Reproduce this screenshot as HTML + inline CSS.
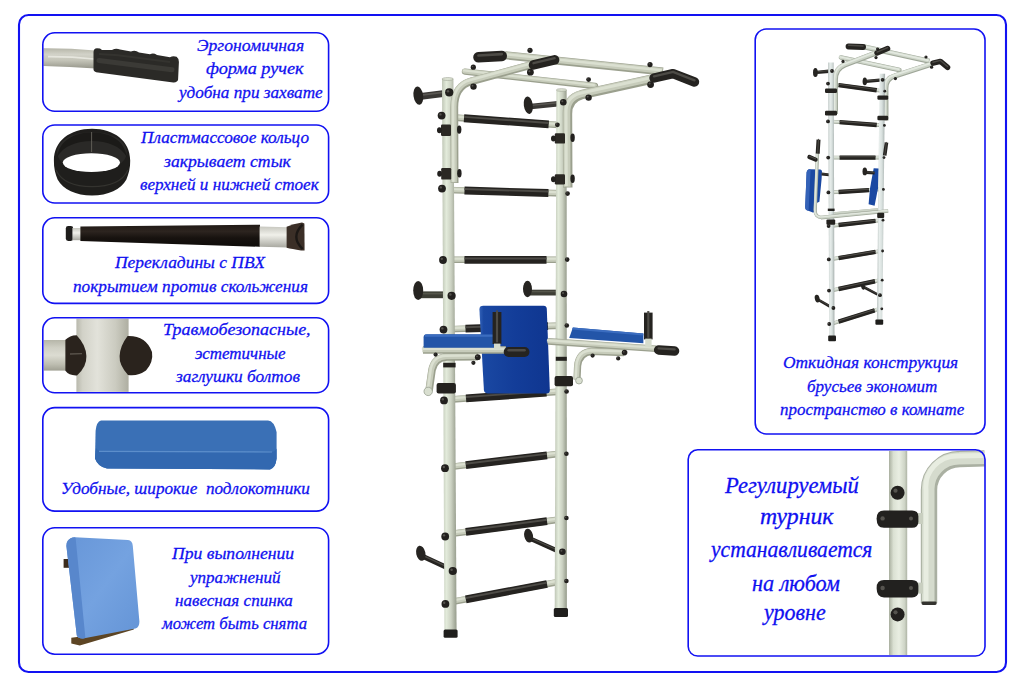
<!DOCTYPE html>
<html lang="ru"><head><meta charset="utf-8"><title>Шведская стенка</title>
<style>
html,body{margin:0;padding:0;background:#fff;}
body{width:1024px;height:686px;position:relative;overflow:hidden;font-family:"Liberation Serif",serif;}
svg{position:absolute;left:0;top:0;}
.t{position:absolute;white-space:pre;font-style:italic;font-size:17.6px;line-height:17.6px;color:#1010f0;transform-origin:0 0;-webkit-text-stroke:0.3px #1010f0;}
.t.b{font-size:22.6px;line-height:22.6px;}
</style></head>
<body>
<svg width="1024" height="686" viewBox="0 0 1024 686">
<defs>
<linearGradient id="gv" x1="0" x2="1" y1="0" y2="0"><stop offset="0" stop-color="#bfc6b6"/><stop offset="0.3" stop-color="#e3ebdb"/><stop offset="0.62" stop-color="#ccd2c3"/><stop offset="0.9" stop-color="#a3a999"/><stop offset="1" stop-color="#969c8c"/></linearGradient>
<linearGradient id="gvs" x1="0" x2="1" y1="0" y2="0"><stop offset="0" stop-color="#b9c2c0"/><stop offset="0.3" stop-color="#e8eeec"/><stop offset="0.62" stop-color="#d8e0de"/><stop offset="1" stop-color="#a4adab"/></linearGradient>
<linearGradient id="gv2" x1="0" x2="1" y1="0" y2="0"><stop offset="0" stop-color="#b9b9ad"/><stop offset="0.12" stop-color="#d2d2c8"/><stop offset="0.4" stop-color="#e2e2da"/><stop offset="0.75" stop-color="#cbcbc0"/><stop offset="1" stop-color="#aeaea1"/></linearGradient>
<linearGradient id="gv3" x1="0" x2="1" y1="0" y2="0"><stop offset="0" stop-color="#a9af9f"/><stop offset="0.25" stop-color="#dbe1d3"/><stop offset="0.55" stop-color="#e9eee2"/><stop offset="0.85" stop-color="#cfd5c7"/><stop offset="1" stop-color="#aeb4a5"/></linearGradient>
<linearGradient id="gh1" x1="0" x2="0" y1="0" y2="1"><stop offset="0" stop-color="#b5b5a8"/><stop offset="0.3" stop-color="#d2d2c8"/><stop offset="0.6" stop-color="#c4c4b8"/><stop offset="1" stop-color="#96968a"/></linearGradient>
<linearGradient id="gh2" x1="0" x2="0" y1="0" y2="1"><stop offset="0" stop-color="#c8c8c0"/><stop offset="0.4" stop-color="#f0f0ea"/><stop offset="1" stop-color="#a8a8a0"/></linearGradient>
<linearGradient id="gh3" x1="0" x2="0" y1="0" y2="1"><stop offset="0" stop-color="#b6b6a9"/><stop offset="0.25" stop-color="#cfcfc4"/><stop offset="0.5" stop-color="#dcdcd2"/><stop offset="0.8" stop-color="#bdbdb0"/><stop offset="1" stop-color="#a0a093"/></linearGradient>
<linearGradient id="gblk" x1="0" x2="0" y1="0" y2="1"><stop offset="0" stop-color="#211a16"/><stop offset="0.3" stop-color="#2c241f"/><stop offset="0.6" stop-color="#17120f"/><stop offset="1" stop-color="#0e0b09"/></linearGradient>
<linearGradient id="gbp" x1="0" x2="1" y1="0" y2="1"><stop offset="0" stop-color="#6796d8"/><stop offset="0.5" stop-color="#74a2e0"/><stop offset="1" stop-color="#6494d6"/></linearGradient>
<linearGradient id="gpad" x1="0" x2="1" y1="0" y2="0"><stop offset="0" stop-color="#3362b8"/><stop offset="0.06" stop-color="#1a48a2"/><stop offset="0.5" stop-color="#133d99"/><stop offset="1" stop-color="#0f3690"/></linearGradient>
</defs>
<g id="details"><path d="M43.4,48.2 Q70,48 95.4,50.6 L95.4,68.6 Q70,66.6 43.4,66 Z" fill="url(#gh1)"/><path d="M48,56.6 Q70,56.4 94,59" stroke="#e6e6de" stroke-width="1.6" fill="none"/><path d="M93.5,52 Q93.6,48.6 97,48.3 L100,48.6 L102,50 L112,50 Q116,47.6 120,49.6 L131,51.6 Q135,49.8 139,52.4 L150,54.2 Q153.6,52.6 157,55 L170,57.2 Q173,55.6 176.6,56.8 Q179,58.6 178.9,62 L178.1,79.6 Q177.6,82.6 173.3,82.4 L98,72.4 Q93.8,72 93.5,69.4 Z" fill="#2b2a27"/><path d="M99,60.4 L172,69.8" stroke="#3b3a36" stroke-width="5" fill="none" stroke-linecap="round"/><path d="M99,54 L118,55.2 L170,62" stroke="#34332f" stroke-width="2" fill="none"/><path d="M53.9,160.5 C53.9,141 70,128.8 92,128.8 C114,128.8 130.2,141 130.2,160.5 C130.4,168 128.6,174 126.4,179.6 C121,189.6 108,195.6 92,195.6 C76,195.6 63,189.6 57.6,179.6 C55.4,174 53.7,168 53.9,160.5 Z" fill="#1f1e1c"/><ellipse cx="92" cy="152" rx="35" ry="20" fill="#2a2927"/><path d="M57,157 C60,140 74,132.4 92,132.4 C110,132.4 124,140 127,157 C120,146 108,141 92,141 C76,141 64,146 57,157 Z" fill="#1b1a18"/><ellipse cx="91.4" cy="162.6" rx="28.6" ry="9.4" fill="#ffffff"/><path d="M56,170 C62,183 76,186.6 92,186.6 C108,186.6 122,183 128,170" stroke="#34332f" stroke-width="1.2" fill="none"/><path d="M91.6,132 L91.6,152" stroke="#5e5c56" stroke-width="1"/><rect x="65.8" y="226" width="7.4" height="15" rx="2.4" fill="#1e1d1b"/><rect x="72.4" y="228" width="9.6" height="12.2" fill="url(#gh2)"/><polygon points="80.4,226.6 260,224.8 260,246.8 80.4,241" fill="url(#gblk)" /><polygon points="259.6,226.6 288,227.2 288,247.4 259.6,246.8" fill="url(#gh2)" /><path d="M286.6,226.8 Q293,224 302,222.6 L304.4,223.4 L304.6,250.4 L301,250.6 Q292,249 286.6,247.8 Z" fill="#3b2f27"/><path d="M302.6,224.6 Q290,236.6 302.6,249" stroke="#1c1815" stroke-width="2.4" fill="none"/><rect x="43.8" y="340" width="24" height="30.6" fill="url(#gh3)"/><rect x="76.4" y="318.7" width="52.2" height="73.2" fill="url(#gv2)"/><path d="M65.4,339.8 L65.4,370.8 Q69,375.8 77,375.4 Q86.8,367 86.4,356 Q86,345 76.6,335.2 Q69.6,335.4 65.4,339.8 Z" fill="#2a231d"/><path d="M127.6,336 Q146,335.4 152,352 Q153.6,362 146,370.6 Q138,376.4 128,375 Q119,365 119.6,356 Q120,346 127.6,336 Z" fill="#2a231d"/><path d="M70,354 L82,353.6" stroke="#5a544c" stroke-width="1.4"/><path d="M101,420.6 L268,420.6 Q274,421 276.6,432 L276.6,458.6 Q275.6,468 270,469.4 L107,468.6 Q98,467 95,458.6 L95.6,431 Q96.6,421.6 101,420.6 Z" fill="#3a70b6"/><path d="M96,448 Q98,451.6 104,452 L270,452.6 Q275,452 276.6,448.6 L276.6,458.6 Q275.6,468 270,469.4 L107,468.6 Q98,467 95,458.6 Z" fill="#3268b0"/><path d="M99,451.4 L272,452" stroke="#5c8ecb" stroke-width="1.2" fill="none"/><polygon points="71.3,637.8 80.8,636.6 133.8,626.8 133.8,629.6 79.8,645.4 71.3,643.6" fill="#5d4524" /><rect x="63.6" y="559" width="5.4" height="8.8" fill="#3c2c1c"/><path d="M67.6,541 Q70,537.4 75,537.2 L128,540 Q132.4,540.6 132.8,546 L139.4,621.4 Q139.4,627.4 135.4,628.4 L83,638.6 Q78,638.8 76.8,635.6 L66.4,546 Q66.4,542.6 67.6,541 Z" fill="url(#gbp)"/><path d="M67.6,541 Q70,537.4 75,537.2 L75.6,538 L85.4,638 L83,638.6 Q78,638.8 76.8,635.6 L66.4,546 Q66.4,542.6 67.6,541 Z" fill="#5887cc"/><rect x="889" y="451" width="18.2" height="204" fill="url(#gv3)"/><path d="M929,603 L929,490 A31,31 0 0 1 960,459 L984.6,458.4" stroke="#aab0a2" stroke-width="16.4" fill="none"/><path d="M928.2,603 L928.2,490 A31,31 0 0 1 959.2,458.2 L984.6,457.6" stroke="#d5dbcd" stroke-width="12.6" fill="none"/><path d="M926,603 L926,490 A31,31 0 0 1 957,456 L984.6,455.4" stroke="#e8ede1" stroke-width="5" fill="none"/><rect x="921.6" y="601.4" width="15" height="3.6" rx="1.4" fill="#34332f"/><rect x="915" y="513.0" width="8" height="11" fill="#c9cfc0"/><path d="M876.6,518.4 Q876.6,510.4 884,510.4 L912,510.4 Q918.4,510.4 918.4,516.4 L918.4,521.4 Q918.4,527.8 912,527.8 L884,527.8 Q876.6,527.8 876.6,518.4 Z" fill="#22211f"/><circle cx="882.6" cy="518.4" r="2.2" fill="#56544f"/><circle cx="911" cy="518.4" r="2" fill="#56544f"/><rect x="915" y="582.6" width="8" height="11" fill="#c9cfc0"/><path d="M876.6,588 Q876.6,580 884,580 L912,580 Q918.4,580 918.4,586 L918.4,591 Q918.4,597.4 912,597.4 L884,597.4 Q876.6,597.4 876.6,588 Z" fill="#22211f"/><circle cx="882.6" cy="588" r="2.2" fill="#56544f"/><circle cx="911" cy="588" r="2" fill="#56544f"/><circle cx="897.6" cy="492.8" r="7" fill="#22201e"/><circle cx="895.50" cy="490.70" r="2.10" fill="#55534e"/><circle cx="897.6" cy="614.4" r="7" fill="#22201e"/><circle cx="895.50" cy="612.30" r="2.10" fill="#55534e"/></g>
<g id="central"><path d="M421,96.4 L443,93.6" fill="none" stroke="#3a3835" stroke-width="7" stroke-linecap="butt" stroke-linejoin="round"/><path d="M421,96.4 L443,93.6" fill="none" stroke="#5a5853" stroke-width="1.75" stroke-linecap="butt" stroke-linejoin="round" transform="translate(0,-1.26)"/><ellipse cx="418.3" cy="95.7" rx="4.8" ry="9.2" fill="#262421" transform="rotate(-8 418.3 95.7)"/><path d="M531,106.4 L558,103.8" fill="none" stroke="#3a3835" stroke-width="5.5" stroke-linecap="butt" stroke-linejoin="round"/><path d="M531,106.4 L558,103.8" fill="none" stroke="#5a5853" stroke-width="1.38" stroke-linecap="butt" stroke-linejoin="round" transform="translate(0,-0.99)"/><ellipse cx="528.3" cy="105.2" rx="4.5" ry="8.8" fill="#262421" transform="rotate(-8 528.3 105.2)"/><path d="M421,294.8 L445,294.8" fill="none" stroke="#3d3e35" stroke-width="6.8" stroke-linecap="butt" stroke-linejoin="round"/><path d="M421,294.8 L445,294.8" fill="none" stroke="#55564b" stroke-width="1.70" stroke-linecap="butt" stroke-linejoin="round" transform="translate(0,-1.22)"/><ellipse cx="418.2" cy="290.5" rx="5" ry="9.6" fill="#262421"/><path d="M530,292.6 L557,292.6" fill="none" stroke="#3d3e35" stroke-width="5.8" stroke-linecap="butt" stroke-linejoin="round"/><path d="M530,292.6 L557,292.6" fill="none" stroke="#55564b" stroke-width="1.45" stroke-linecap="butt" stroke-linejoin="round" transform="translate(0,-1.04)"/><ellipse cx="527.5" cy="289" rx="4.5" ry="8.2" fill="#262421"/><path d="M422,556 L450,569" fill="none" stroke="#252320" stroke-width="5" stroke-linecap="butt" stroke-linejoin="round"/><path d="M422,556 L450,569" fill="none" stroke="#4d4b46" stroke-width="1.25" stroke-linecap="butt" stroke-linejoin="round" transform="translate(0,-0.90)"/><ellipse cx="420.8" cy="553.3" rx="4.6" ry="7.6" fill="#262421" transform="rotate(-12 420.8 553.3)"/><path d="M531,539 L557,550.6" fill="none" stroke="#252320" stroke-width="4.6" stroke-linecap="butt" stroke-linejoin="round"/><path d="M531,539 L557,550.6" fill="none" stroke="#4d4b46" stroke-width="1.15" stroke-linecap="butt" stroke-linejoin="round" transform="translate(0,-0.83)"/><ellipse cx="528.6" cy="535.7" rx="4.4" ry="7" fill="#262421" transform="rotate(-12 528.6 535.7)"/><path d="M465,71.6 L595,86" fill="none" stroke="#9ba08e" stroke-width="6.4" stroke-linecap="round" stroke-linejoin="round"/><path d="M465,71.6 L595,86" fill="none" stroke="#c7ccbb" stroke-width="4.74" stroke-linecap="round" stroke-linejoin="round" transform="translate(-0.51,-0.51)"/><path d="M465,71.6 L595,86" fill="none" stroke="#dbe0d1" stroke-width="2.05" stroke-linecap="round" stroke-linejoin="round" transform="translate(-1.02,-1.02)"/><circle cx="588.6" cy="79.6" r="2.4" fill="#22201e"/><circle cx="587.88" cy="78.88" r="0.72" fill="#55534e"/><circle cx="473.3" cy="67.2" r="2.6" fill="#22201e"/><circle cx="472.52" cy="66.42" r="0.78" fill="#55534e"/><path d="M505,55.3 L663,71.5" fill="none" stroke="#9ba08e" stroke-width="8" stroke-linecap="butt" stroke-linejoin="round"/><path d="M505,55.3 L663,71.5" fill="none" stroke="#c7ccbb" stroke-width="5.92" stroke-linecap="butt" stroke-linejoin="round" transform="translate(-0.64,-0.64)"/><path d="M505,55.3 L663,71.5" fill="none" stroke="#dbe0d1" stroke-width="2.56" stroke-linecap="butt" stroke-linejoin="round" transform="translate(-1.28,-1.28)"/><circle cx="530" cy="50.3" r="2.6" fill="#22201e"/><circle cx="529.22" cy="49.52" r="0.78" fill="#55534e"/><circle cx="650" cy="64.6" r="2.6" fill="#22201e"/><circle cx="649.22" cy="63.82" r="0.78" fill="#55534e"/><path d="M478.4,57.3 L501.8,56" fill="none" stroke="#252320" stroke-width="10.4" stroke-linecap="round" stroke-linejoin="round"/><path d="M478.4,57.3 L501.8,56" fill="none" stroke="#4d4b46" stroke-width="2.60" stroke-linecap="round" stroke-linejoin="round" transform="translate(0,-1.87)"/><path d="M448,117.1 L562,125.3" fill="none" stroke="#9ba08e" stroke-width="6.63" stroke-linecap="butt" stroke-linejoin="round"/><path d="M448,117.1 L562,125.3" fill="none" stroke="#c7ccbb" stroke-width="4.91" stroke-linecap="butt" stroke-linejoin="round" transform="translate(-0.53,-0.53)"/><path d="M448,117.1 L562,125.3" fill="none" stroke="#dbe0d1" stroke-width="2.12" stroke-linecap="butt" stroke-linejoin="round" transform="translate(-1.06,-1.06)"/><path d="M464,118.25 L548.7,124.34" fill="none" stroke="#252320" stroke-width="7.8" stroke-linecap="butt" stroke-linejoin="round"/><path d="M464,118.25 L548.7,124.34" fill="none" stroke="#4d4b46" stroke-width="1.95" stroke-linecap="butt" stroke-linejoin="round" transform="translate(0,-1.40)"/><path d="M448,190.0 L562,193.4" fill="none" stroke="#9ba08e" stroke-width="6.63" stroke-linecap="butt" stroke-linejoin="round"/><path d="M448,190.0 L562,193.4" fill="none" stroke="#c7ccbb" stroke-width="4.91" stroke-linecap="butt" stroke-linejoin="round" transform="translate(-0.53,-0.53)"/><path d="M448,190.0 L562,193.4" fill="none" stroke="#dbe0d1" stroke-width="2.12" stroke-linecap="butt" stroke-linejoin="round" transform="translate(-1.06,-1.06)"/><path d="M464.5,190.49 L548.4,192.99" fill="none" stroke="#252320" stroke-width="7.8" stroke-linecap="butt" stroke-linejoin="round"/><path d="M464.5,190.49 L548.4,192.99" fill="none" stroke="#4d4b46" stroke-width="1.95" stroke-linecap="butt" stroke-linejoin="round" transform="translate(0,-1.40)"/><path d="M449,259.8 L562,259.8" fill="none" stroke="#9ba08e" stroke-width="6.63" stroke-linecap="butt" stroke-linejoin="round"/><path d="M449,259.8 L562,259.8" fill="none" stroke="#c7ccbb" stroke-width="4.91" stroke-linecap="butt" stroke-linejoin="round" transform="translate(-0.53,-0.53)"/><path d="M449,259.8 L562,259.8" fill="none" stroke="#dbe0d1" stroke-width="2.12" stroke-linecap="butt" stroke-linejoin="round" transform="translate(-1.06,-1.06)"/><path d="M464.5,259.80 L546.5,259.80" fill="none" stroke="#252320" stroke-width="7.8" stroke-linecap="butt" stroke-linejoin="round"/><path d="M464.5,259.80 L546.5,259.80" fill="none" stroke="#4d4b46" stroke-width="1.95" stroke-linecap="butt" stroke-linejoin="round" transform="translate(0,-1.40)"/><path d="M449,329.2 L562,325.6" fill="none" stroke="#9ba08e" stroke-width="6.63" stroke-linecap="butt" stroke-linejoin="round"/><path d="M449,329.2 L562,325.6" fill="none" stroke="#c7ccbb" stroke-width="4.91" stroke-linecap="butt" stroke-linejoin="round" transform="translate(-0.53,-0.53)"/><path d="M449,329.2 L562,325.6" fill="none" stroke="#dbe0d1" stroke-width="2.12" stroke-linecap="butt" stroke-linejoin="round" transform="translate(-1.06,-1.06)"/><path d="M465.5,328.67 L548,326.05" fill="none" stroke="#252320" stroke-width="7.8" stroke-linecap="butt" stroke-linejoin="round"/><path d="M465.5,328.67 L548,326.05" fill="none" stroke="#4d4b46" stroke-width="1.95" stroke-linecap="butt" stroke-linejoin="round" transform="translate(0,-1.40)"/><path d="M450,399.6 L561,391.6" fill="none" stroke="#9ba08e" stroke-width="6.63" stroke-linecap="butt" stroke-linejoin="round"/><path d="M450,399.6 L561,391.6" fill="none" stroke="#c7ccbb" stroke-width="4.91" stroke-linecap="butt" stroke-linejoin="round" transform="translate(-0.53,-0.53)"/><path d="M450,399.6 L561,391.6" fill="none" stroke="#dbe0d1" stroke-width="2.12" stroke-linecap="butt" stroke-linejoin="round" transform="translate(-1.06,-1.06)"/><path d="M466,398.45 L546.5,392.65" fill="none" stroke="#252320" stroke-width="7.8" stroke-linecap="butt" stroke-linejoin="round"/><path d="M466,398.45 L546.5,392.65" fill="none" stroke="#4d4b46" stroke-width="1.95" stroke-linecap="butt" stroke-linejoin="round" transform="translate(0,-1.40)"/><path d="M450,467.0 L561,453.6" fill="none" stroke="#9ba08e" stroke-width="6.63" stroke-linecap="butt" stroke-linejoin="round"/><path d="M450,467.0 L561,453.6" fill="none" stroke="#c7ccbb" stroke-width="4.91" stroke-linecap="butt" stroke-linejoin="round" transform="translate(-0.53,-0.53)"/><path d="M450,467.0 L561,453.6" fill="none" stroke="#dbe0d1" stroke-width="2.12" stroke-linecap="butt" stroke-linejoin="round" transform="translate(-1.06,-1.06)"/><path d="M465.8,465.09 L547,455.29" fill="none" stroke="#252320" stroke-width="7.8" stroke-linecap="butt" stroke-linejoin="round"/><path d="M465.8,465.09 L547,455.29" fill="none" stroke="#4d4b46" stroke-width="1.95" stroke-linecap="butt" stroke-linejoin="round" transform="translate(0,-1.40)"/><path d="M450,534.0 L561,519.4" fill="none" stroke="#9ba08e" stroke-width="6.63" stroke-linecap="butt" stroke-linejoin="round"/><path d="M450,534.0 L561,519.4" fill="none" stroke="#c7ccbb" stroke-width="4.91" stroke-linecap="butt" stroke-linejoin="round" transform="translate(-0.53,-0.53)"/><path d="M450,534.0 L561,519.4" fill="none" stroke="#dbe0d1" stroke-width="2.12" stroke-linecap="butt" stroke-linejoin="round" transform="translate(-1.06,-1.06)"/><path d="M465.8,531.92 L547,521.24" fill="none" stroke="#252320" stroke-width="7.8" stroke-linecap="butt" stroke-linejoin="round"/><path d="M465.8,531.92 L547,521.24" fill="none" stroke="#4d4b46" stroke-width="1.95" stroke-linecap="butt" stroke-linejoin="round" transform="translate(0,-1.40)"/><path d="M450,602.3 L561,581.4" fill="none" stroke="#9ba08e" stroke-width="6.63" stroke-linecap="butt" stroke-linejoin="round"/><path d="M450,602.3 L561,581.4" fill="none" stroke="#c7ccbb" stroke-width="4.91" stroke-linecap="butt" stroke-linejoin="round" transform="translate(-0.53,-0.53)"/><path d="M450,602.3 L561,581.4" fill="none" stroke="#dbe0d1" stroke-width="2.12" stroke-linecap="butt" stroke-linejoin="round" transform="translate(-1.06,-1.06)"/><path d="M465.8,599.33 L547,584.04" fill="none" stroke="#252320" stroke-width="7.8" stroke-linecap="butt" stroke-linejoin="round"/><path d="M465.8,599.33 L547,584.04" fill="none" stroke="#4d4b46" stroke-width="1.95" stroke-linecap="butt" stroke-linejoin="round" transform="translate(0,-1.40)"/><polygon points="442,79 453.4,79 456.6,633 444.4,633" fill="url(#gv)" /><ellipse cx="447.7" cy="79" rx="5.7" ry="1.4" fill="#dfe5d6" stroke="#9aa090" stroke-width="0.6"/><polygon points="556.4,90 566.6,90 566.9,612 554.7,612" fill="url(#gv)" /><ellipse cx="561.5" cy="90" rx="5.1" ry="1.3" fill="#dfe5d6" stroke="#9aa090" stroke-width="0.6"/><rect x="443.6" y="629.5" width="14" height="8.2" rx="1.5" fill="#1f1e1c"/><rect x="553.8" y="608" width="14.2" height="9" rx="1.5" fill="#1f1e1c"/><path d="M454.6,183 L454.3,108 Q454,86 471.5,81.2 L531,65" fill="none" stroke="#9ba08e" stroke-width="7.8" stroke-linecap="butt" stroke-linejoin="round"/><path d="M454.6,183 L454.3,108 Q454,86 471.5,81.2 L531,65" fill="none" stroke="#c7ccbb" stroke-width="5.77" stroke-linecap="butt" stroke-linejoin="round" transform="translate(-0.62,-0.62)"/><path d="M454.6,183 L454.3,108 Q454,86 471.5,81.2 L531,65" fill="none" stroke="#dbe0d1" stroke-width="2.50" stroke-linecap="butt" stroke-linejoin="round" transform="translate(-1.25,-1.25)"/><path d="M567.8,187.6 L567.5,114 Q567.2,98.6 581.5,94.7 L652,79.2" fill="none" stroke="#9ba08e" stroke-width="9.4" stroke-linecap="butt" stroke-linejoin="round"/><path d="M567.8,187.6 L567.5,114 Q567.2,98.6 581.5,94.7 L652,79.2" fill="none" stroke="#c7ccbb" stroke-width="6.96" stroke-linecap="butt" stroke-linejoin="round" transform="translate(-0.75,-0.75)"/><path d="M567.8,187.6 L567.5,114 Q567.2,98.6 581.5,94.7 L652,79.2" fill="none" stroke="#dbe0d1" stroke-width="3.01" stroke-linecap="butt" stroke-linejoin="round" transform="translate(-1.50,-1.50)"/><path d="M533.5,64.9 L554.6,59.9" fill="none" stroke="#252320" stroke-width="9.6" stroke-linecap="round" stroke-linejoin="round"/><path d="M533.5,64.9 L554.6,59.9" fill="none" stroke="#4d4b46" stroke-width="2.40" stroke-linecap="round" stroke-linejoin="round" transform="translate(0,-1.73)"/><path d="M654,78 L673,73.6 L694.5,82" fill="none" stroke="#252320" stroke-width="9.4" stroke-linecap="round" stroke-linejoin="round"/><path d="M654,78 L673,73.6 L694.5,82" fill="none" stroke="#4d4b46" stroke-width="2.35" stroke-linecap="round" stroke-linejoin="round" transform="translate(0,-1.69)"/><circle cx="473.5" cy="86.6" r="3.2" fill="#22201e"/><circle cx="472.54" cy="85.64" r="0.96" fill="#55534e"/><circle cx="530.4" cy="72.2" r="3.4" fill="#22201e"/><circle cx="529.38" cy="71.18" r="1.02" fill="#55534e"/><circle cx="588.6" cy="97.6" r="3.2" fill="#22201e"/><circle cx="587.64" cy="96.64" r="0.96" fill="#55534e"/><circle cx="650.6" cy="84.6" r="3.4" fill="#22201e"/><circle cx="649.58" cy="83.58" r="1.02" fill="#55534e"/><rect x="441" y="124.4" width="10" height="11.6" rx="1.2" fill="#2b2824"/><ellipse cx="439.4" cy="130.20000000000002" rx="2.4" ry="3" fill="#22201e"/><ellipse cx="459.2" cy="129.60000000000002" rx="2.2" ry="4.2" fill="#22201e"/><rect x="441.2" y="168" width="10" height="11.6" rx="1.2" fill="#2b2824"/><ellipse cx="439.6" cy="173.8" rx="2.4" ry="3" fill="#22201e"/><ellipse cx="459.4" cy="173.20000000000002" rx="2.2" ry="4.2" fill="#22201e"/><rect x="554.8" y="133.2" width="10.2" height="10.4" rx="1.2" fill="#2b2824"/><ellipse cx="553.4" cy="138.39999999999998" rx="2.4" ry="3" fill="#22201e"/><ellipse cx="572.6" cy="137.79999999999998" rx="2.2" ry="4.2" fill="#22201e"/><rect x="554.8" y="174.2" width="10.2" height="10.2" rx="1.2" fill="#2b2824"/><ellipse cx="553.4" cy="179.29999999999998" rx="2.4" ry="3" fill="#22201e"/><ellipse cx="572.6" cy="178.7" rx="2.2" ry="4.2" fill="#22201e"/><circle cx="441.6" cy="115.6" r="3.9" fill="#22201e"/><circle cx="440.43" cy="114.43" r="1.17" fill="#55534e"/><circle cx="442" cy="188.6" r="3.9" fill="#22201e"/><circle cx="440.83" cy="187.43" r="1.17" fill="#55534e"/><circle cx="443" cy="260" r="3.9" fill="#22201e"/><circle cx="441.83" cy="258.83" r="1.17" fill="#55534e"/><circle cx="443.5" cy="329.6" r="3.9" fill="#22201e"/><circle cx="442.33" cy="328.43" r="1.17" fill="#55534e"/><circle cx="444" cy="400.4" r="3.9" fill="#22201e"/><circle cx="442.83" cy="399.23" r="1.17" fill="#55534e"/><circle cx="445" cy="468.2" r="3.9" fill="#22201e"/><circle cx="443.83" cy="467.03" r="1.17" fill="#55534e"/><circle cx="445.2" cy="536.5" r="3.9" fill="#22201e"/><circle cx="444.03" cy="535.33" r="1.17" fill="#55534e"/><circle cx="445.4" cy="603.9" r="3.9" fill="#22201e"/><circle cx="444.23" cy="602.73" r="1.17" fill="#55534e"/><circle cx="449.2" cy="92.4" r="4.1" fill="#22201e"/><circle cx="447.97" cy="91.17" r="1.23" fill="#55534e"/><circle cx="451.6" cy="295.8" r="4.1" fill="#22201e"/><circle cx="450.37" cy="294.57" r="1.23" fill="#55534e"/><circle cx="452.8" cy="571" r="4.1" fill="#22201e"/><circle cx="451.57" cy="569.77" r="1.23" fill="#55534e"/><circle cx="567.6" cy="193.6" r="2.3" fill="#22201e"/><circle cx="566.91" cy="192.91" r="0.69" fill="#55534e"/><circle cx="567.2" cy="259.6" r="2.3" fill="#22201e"/><circle cx="566.51" cy="258.91" r="0.69" fill="#55534e"/><circle cx="566.8" cy="325.5" r="2.3" fill="#22201e"/><circle cx="566.11" cy="324.81" r="0.69" fill="#55534e"/><circle cx="566.6" cy="391.5" r="2.3" fill="#22201e"/><circle cx="565.91" cy="390.81" r="0.69" fill="#55534e"/><circle cx="566.4" cy="453.8" r="2.3" fill="#22201e"/><circle cx="565.71" cy="453.11" r="0.69" fill="#55534e"/><circle cx="566.4" cy="518" r="2.3" fill="#22201e"/><circle cx="565.71" cy="517.31" r="0.69" fill="#55534e"/><circle cx="566.4" cy="581" r="2.3" fill="#22201e"/><circle cx="565.71" cy="580.31" r="0.69" fill="#55534e"/><circle cx="563.3" cy="102.3" r="3.3" fill="#22201e"/><circle cx="562.31" cy="101.31" r="0.99" fill="#55534e"/><circle cx="564" cy="294" r="3.3" fill="#22201e"/><circle cx="563.01" cy="293.01" r="0.99" fill="#55534e"/><circle cx="562.4" cy="551.8" r="3.3" fill="#22201e"/><circle cx="561.41" cy="550.81" r="0.99" fill="#55534e"/><circle cx="557.4" cy="124.8" r="2.4" fill="#22201e"/><circle cx="556.68" cy="124.08" r="0.72" fill="#55534e"/><rect x="443.2" y="362.8" width="12.4" height="4.6" fill="#24221f"/><rect x="555.8" y="356.8" width="11" height="4" fill="#24221f"/><path d="M429,391 L432,370 Q434.6,357.4 447,357 L478,356.6" fill="none" stroke="#9ba08e" stroke-width="7.6" stroke-linecap="butt" stroke-linejoin="round"/><path d="M429,391 L432,370 Q434.6,357.4 447,357 L478,356.6" fill="none" stroke="#c7ccbb" stroke-width="5.62" stroke-linecap="butt" stroke-linejoin="round" transform="translate(-0.61,-0.61)"/><path d="M429,391 L432,370 Q434.6,357.4 447,357 L478,356.6" fill="none" stroke="#dbe0d1" stroke-width="2.43" stroke-linecap="butt" stroke-linejoin="round" transform="translate(-1.22,-1.22)"/><circle cx="428.2" cy="391.4" r="4.2" fill="#d9dfd0" stroke="#98a090" stroke-width="0.8"/><rect x="436.6" y="383" width="19.3" height="10.6" rx="2" fill="#24221f"/><path d="M577,379.6 L577.6,366 Q579,352.4 592,351.4 L624,352.6" fill="none" stroke="#9ba08e" stroke-width="7.2" stroke-linecap="butt" stroke-linejoin="round"/><path d="M577,379.6 L577.6,366 Q579,352.4 592,351.4 L624,352.6" fill="none" stroke="#c7ccbb" stroke-width="5.33" stroke-linecap="butt" stroke-linejoin="round" transform="translate(-0.58,-0.58)"/><path d="M577,379.6 L577.6,366 Q579,352.4 592,351.4 L624,352.6" fill="none" stroke="#dbe0d1" stroke-width="2.30" stroke-linecap="butt" stroke-linejoin="round" transform="translate(-1.15,-1.15)"/><circle cx="579" cy="380.6" r="3.4" fill="#d9dfd0" stroke="#98a090" stroke-width="0.8"/><rect x="554.6" y="376" width="18.4" height="10.2" rx="2" fill="#24221f"/><path d="M483.4,305.8 L543.6,305.8 Q546.6,305.8 546.8,309 L549.8,390 Q549.9,393.4 546.4,393.4 L488,393.4 Q484.2,393.4 483.9,390 L479.4,309.6 Q479.2,305.8 483.4,305.8 Z" fill="url(#gpad)"/><path d="M548,341.4 L656,348.8" fill="none" stroke="#9ba08e" stroke-width="6.6" stroke-linecap="butt" stroke-linejoin="round"/><path d="M548,341.4 L656,348.8" fill="none" stroke="#c7ccbb" stroke-width="4.88" stroke-linecap="butt" stroke-linejoin="round" transform="translate(-0.53,-0.53)"/><path d="M548,341.4 L656,348.8" fill="none" stroke="#dbe0d1" stroke-width="2.11" stroke-linecap="butt" stroke-linejoin="round" transform="translate(-1.06,-1.06)"/><polygon points="572.9,327.4 643.4,333.4 643.4,343.3 569.2,338" fill="#2355a8" /><polygon points="572.9,327.4 643.4,333.4 643.4,335.4 571.9,329.6" fill="#3b6dc0" /><circle cx="592.6" cy="355.6" r="2.1" fill="#22201e"/><circle cx="591.97" cy="354.97" r="0.63" fill="#55534e"/><circle cx="618.2" cy="358.4" r="2.1" fill="#22201e"/><circle cx="617.57" cy="357.77" r="0.63" fill="#55534e"/><circle cx="624.6" cy="352.6" r="2.8" fill="#22201e"/><circle cx="623.76" cy="351.76" r="0.84" fill="#55534e"/><path d="M648.3,312.6 L648.3,339.4" fill="none" stroke="#252320" stroke-width="8.6" stroke-linecap="butt" stroke-linejoin="round"/><path d="M648.3,312.6 L648.3,339.4" fill="none" stroke="#4d4b46" stroke-width="2.15" stroke-linecap="butt" stroke-linejoin="round" transform="translate(0,-1.55)"/><rect x="645.2" y="338.6" width="6.4" height="8" fill="#d6dccd"/><path d="M658.6,350 L674.6,351" fill="none" stroke="#252320" stroke-width="9.4" stroke-linecap="round" stroke-linejoin="round"/><path d="M658.6,350 L674.6,351" fill="none" stroke="#4d4b46" stroke-width="2.35" stroke-linecap="round" stroke-linejoin="round" transform="translate(0,-1.69)"/><path d="M423,350 L506,350" fill="none" stroke="#9ba08e" stroke-width="7.4" stroke-linecap="butt" stroke-linejoin="round"/><path d="M423,350 L506,350" fill="none" stroke="#c7ccbb" stroke-width="5.48" stroke-linecap="butt" stroke-linejoin="round" transform="translate(-0.59,-0.59)"/><path d="M423,350 L506,350" fill="none" stroke="#dbe0d1" stroke-width="2.37" stroke-linecap="butt" stroke-linejoin="round" transform="translate(-1.18,-1.18)"/><path d="M426.6,334.2 L491,334.2 Q494.6,334.2 494.6,337.6 L494.6,347.8 L423.6,347.8 L423.6,337.2 Q423.6,334.2 426.6,334.2 Z" fill="#2355a8"/><rect x="425" y="334.6" width="68" height="2.2" fill="#3b6dc0"/><circle cx="435.6" cy="354.6" r="2.1" fill="#22201e"/><circle cx="434.97" cy="353.97" r="0.63" fill="#55534e"/><circle cx="473.4" cy="362.8" r="2.1" fill="#22201e"/><circle cx="472.77" cy="362.17" r="0.63" fill="#55534e"/><circle cx="477.8" cy="357.2" r="2.9" fill="#22201e"/><circle cx="476.93" cy="356.33" r="0.87" fill="#55534e"/><path d="M497,312 L497,344" fill="none" stroke="#252320" stroke-width="8.8" stroke-linecap="butt" stroke-linejoin="round"/><path d="M497,312 L497,344" fill="none" stroke="#4d4b46" stroke-width="2.20" stroke-linecap="butt" stroke-linejoin="round" transform="translate(0,-1.58)"/><rect x="494" y="343.6" width="6.4" height="6" fill="#d6dccd"/><path d="M508.6,352 L524.6,352" fill="none" stroke="#252320" stroke-width="9.8" stroke-linecap="round" stroke-linejoin="round"/><path d="M508.6,352 L524.6,352" fill="none" stroke="#4d4b46" stroke-width="2.45" stroke-linecap="round" stroke-linejoin="round" transform="translate(0,-1.76)"/></g>
<g id="small"><path d="M817,72.4 L829,71.2" fill="none" stroke="#252320" stroke-width="3.4" stroke-linecap="butt" stroke-linejoin="round"/><path d="M817,72.4 L829,71.2" fill="none" stroke="#4d4b46" stroke-width="0.85" stroke-linecap="butt" stroke-linejoin="round" transform="translate(0,-0.61)"/><ellipse cx="815.4" cy="72.6" rx="2.4" ry="4.5" fill="#262421"/><path d="M866,81.4 L880,80.2" fill="none" stroke="#252320" stroke-width="3.2" stroke-linecap="butt" stroke-linejoin="round"/><path d="M866,81.4 L880,80.2" fill="none" stroke="#4d4b46" stroke-width="0.80" stroke-linecap="butt" stroke-linejoin="round" transform="translate(0,-0.58)"/><ellipse cx="864.8" cy="81.4" rx="2.2" ry="3.8" fill="#262421"/><path d="M818,299.6 L830.4,306.8" fill="none" stroke="#252320" stroke-width="2.8" stroke-linecap="butt" stroke-linejoin="round"/><path d="M818,299.6 L830.4,306.8" fill="none" stroke="#4d4b46" stroke-width="0.70" stroke-linecap="butt" stroke-linejoin="round" transform="translate(0,-0.50)"/><ellipse cx="817.2" cy="298.6" rx="2.4" ry="4" fill="#262421" transform="rotate(-12 817.2 298.6)"/><path d="M863.6,287 L877.4,294.4" fill="none" stroke="#252320" stroke-width="2.6" stroke-linecap="butt" stroke-linejoin="round"/><path d="M863.6,287 L877.4,294.4" fill="none" stroke="#4d4b46" stroke-width="0.65" stroke-linecap="butt" stroke-linejoin="round" transform="translate(0,-0.47)"/><ellipse cx="863" cy="286.4" rx="2" ry="3.4" fill="#262421" transform="rotate(-12 863 286.4)"/><path d="M841,57.6 L899.4,70" fill="none" stroke="#9fa799" stroke-width="4.6" stroke-linecap="round" stroke-linejoin="round"/><path d="M841,57.6 L899.4,70" fill="none" stroke="#cdd4c8" stroke-width="3.40" stroke-linecap="round" stroke-linejoin="round" transform="translate(-0.37,-0.37)"/><path d="M841,57.6 L899.4,70" fill="none" stroke="#e3e9e0" stroke-width="1.47" stroke-linecap="round" stroke-linejoin="round" transform="translate(-0.74,-0.74)"/><path d="M863.5,46.8 L929.4,61.2" fill="none" stroke="#9fa799" stroke-width="5" stroke-linecap="butt" stroke-linejoin="round"/><path d="M863.5,46.8 L929.4,61.2" fill="none" stroke="#cdd4c8" stroke-width="3.70" stroke-linecap="butt" stroke-linejoin="round" transform="translate(-0.40,-0.40)"/><path d="M863.5,46.8 L929.4,61.2" fill="none" stroke="#e3e9e0" stroke-width="1.60" stroke-linecap="butt" stroke-linejoin="round" transform="translate(-0.80,-0.80)"/><path d="M848.6,46.4 L863,47" fill="none" stroke="#252320" stroke-width="6" stroke-linecap="round" stroke-linejoin="round"/><path d="M848.6,46.4 L863,47" fill="none" stroke="#4d4b46" stroke-width="1.50" stroke-linecap="round" stroke-linejoin="round" transform="translate(0,-1.08)"/><path d="M832,84.2 L882,91" fill="none" stroke="#9fa799" stroke-width="3.74" stroke-linecap="butt" stroke-linejoin="round"/><path d="M832,84.2 L882,91" fill="none" stroke="#cdd4c8" stroke-width="2.77" stroke-linecap="butt" stroke-linejoin="round" transform="translate(-0.30,-0.30)"/><path d="M832,84.2 L882,91" fill="none" stroke="#e3e9e0" stroke-width="1.20" stroke-linecap="butt" stroke-linejoin="round" transform="translate(-0.60,-0.60)"/><path d="M838.6,85.10 L876.7,90.28" fill="none" stroke="#252320" stroke-width="4.4" stroke-linecap="butt" stroke-linejoin="round"/><path d="M838.6,85.10 L876.7,90.28" fill="none" stroke="#4d4b46" stroke-width="1.10" stroke-linecap="butt" stroke-linejoin="round" transform="translate(0,-0.79)"/><path d="M832,121.6 L882,125.4" fill="none" stroke="#9fa799" stroke-width="3.74" stroke-linecap="butt" stroke-linejoin="round"/><path d="M832,121.6 L882,125.4" fill="none" stroke="#cdd4c8" stroke-width="2.77" stroke-linecap="butt" stroke-linejoin="round" transform="translate(-0.30,-0.30)"/><path d="M832,121.6 L882,125.4" fill="none" stroke="#e3e9e0" stroke-width="1.20" stroke-linecap="butt" stroke-linejoin="round" transform="translate(-0.60,-0.60)"/><path d="M839.6,122.18 L876.7,125.00" fill="none" stroke="#252320" stroke-width="4.4" stroke-linecap="butt" stroke-linejoin="round"/><path d="M839.6,122.18 L876.7,125.00" fill="none" stroke="#4d4b46" stroke-width="1.10" stroke-linecap="butt" stroke-linejoin="round" transform="translate(0,-0.79)"/><path d="M832,157.6 L882,157.6" fill="none" stroke="#9fa799" stroke-width="3.74" stroke-linecap="butt" stroke-linejoin="round"/><path d="M832,157.6 L882,157.6" fill="none" stroke="#cdd4c8" stroke-width="2.77" stroke-linecap="butt" stroke-linejoin="round" transform="translate(-0.30,-0.30)"/><path d="M832,157.6 L882,157.6" fill="none" stroke="#e3e9e0" stroke-width="1.20" stroke-linecap="butt" stroke-linejoin="round" transform="translate(-0.60,-0.60)"/><path d="M839.6,157.60 L875.5,157.60" fill="none" stroke="#252320" stroke-width="4.4" stroke-linecap="butt" stroke-linejoin="round"/><path d="M839.6,157.60 L875.5,157.60" fill="none" stroke="#4d4b46" stroke-width="1.10" stroke-linecap="butt" stroke-linejoin="round" transform="translate(0,-0.79)"/><path d="M832,192.4 L880,189.4" fill="none" stroke="#9fa799" stroke-width="3.74" stroke-linecap="butt" stroke-linejoin="round"/><path d="M832,192.4 L880,189.4" fill="none" stroke="#cdd4c8" stroke-width="2.77" stroke-linecap="butt" stroke-linejoin="round" transform="translate(-0.30,-0.30)"/><path d="M832,192.4 L880,189.4" fill="none" stroke="#e3e9e0" stroke-width="1.20" stroke-linecap="butt" stroke-linejoin="round" transform="translate(-0.60,-0.60)"/><path d="M838.6,191.99 L869,190.09" fill="none" stroke="#252320" stroke-width="4.4" stroke-linecap="butt" stroke-linejoin="round"/><path d="M838.6,191.99 L869,190.09" fill="none" stroke="#4d4b46" stroke-width="1.10" stroke-linecap="butt" stroke-linejoin="round" transform="translate(0,-0.79)"/><path d="M832,225.8 L880,220.4" fill="none" stroke="#9fa799" stroke-width="3.74" stroke-linecap="butt" stroke-linejoin="round"/><path d="M832,225.8 L880,220.4" fill="none" stroke="#cdd4c8" stroke-width="2.77" stroke-linecap="butt" stroke-linejoin="round" transform="translate(-0.30,-0.30)"/><path d="M832,225.8 L880,220.4" fill="none" stroke="#e3e9e0" stroke-width="1.20" stroke-linecap="butt" stroke-linejoin="round" transform="translate(-0.60,-0.60)"/><path d="M838.6,225.06 L875.5,220.91" fill="none" stroke="#252320" stroke-width="4.4" stroke-linecap="butt" stroke-linejoin="round"/><path d="M838.6,225.06 L875.5,220.91" fill="none" stroke="#4d4b46" stroke-width="1.10" stroke-linecap="butt" stroke-linejoin="round" transform="translate(0,-0.79)"/><path d="M832,259.2 L880,251.2" fill="none" stroke="#9fa799" stroke-width="3.74" stroke-linecap="butt" stroke-linejoin="round"/><path d="M832,259.2 L880,251.2" fill="none" stroke="#cdd4c8" stroke-width="2.77" stroke-linecap="butt" stroke-linejoin="round" transform="translate(-0.30,-0.30)"/><path d="M832,259.2 L880,251.2" fill="none" stroke="#e3e9e0" stroke-width="1.20" stroke-linecap="butt" stroke-linejoin="round" transform="translate(-0.60,-0.60)"/><path d="M838.6,258.10 L875.5,251.95" fill="none" stroke="#252320" stroke-width="4.4" stroke-linecap="butt" stroke-linejoin="round"/><path d="M838.6,258.10 L875.5,251.95" fill="none" stroke="#4d4b46" stroke-width="1.10" stroke-linecap="butt" stroke-linejoin="round" transform="translate(0,-0.79)"/><path d="M832,290.4 L879,280.4" fill="none" stroke="#9fa799" stroke-width="3.74" stroke-linecap="butt" stroke-linejoin="round"/><path d="M832,290.4 L879,280.4" fill="none" stroke="#cdd4c8" stroke-width="2.77" stroke-linecap="butt" stroke-linejoin="round" transform="translate(-0.30,-0.30)"/><path d="M832,290.4 L879,280.4" fill="none" stroke="#e3e9e0" stroke-width="1.20" stroke-linecap="butt" stroke-linejoin="round" transform="translate(-0.60,-0.60)"/><path d="M838.6,289.00 L875,281.25" fill="none" stroke="#252320" stroke-width="4.4" stroke-linecap="butt" stroke-linejoin="round"/><path d="M838.6,289.00 L875,281.25" fill="none" stroke="#4d4b46" stroke-width="1.10" stroke-linecap="butt" stroke-linejoin="round" transform="translate(0,-0.79)"/><path d="M832,323.8 L879,309" fill="none" stroke="#9fa799" stroke-width="3.74" stroke-linecap="butt" stroke-linejoin="round"/><path d="M832,323.8 L879,309" fill="none" stroke="#cdd4c8" stroke-width="2.77" stroke-linecap="butt" stroke-linejoin="round" transform="translate(-0.30,-0.30)"/><path d="M832,323.8 L879,309" fill="none" stroke="#e3e9e0" stroke-width="1.20" stroke-linecap="butt" stroke-linejoin="round" transform="translate(-0.60,-0.60)"/><path d="M838.6,321.72 L874.6,310.39" fill="none" stroke="#252320" stroke-width="4.4" stroke-linecap="butt" stroke-linejoin="round"/><path d="M838.6,321.72 L874.6,310.39" fill="none" stroke="#4d4b46" stroke-width="1.10" stroke-linecap="butt" stroke-linejoin="round" transform="translate(0,-0.79)"/><polygon points="873.7,168.2 878.8,168.6 878,188.3 874.6,205.8 868.6,204.3 870,188.3" fill="#1a48a2" /><path d="M866,172.4 L874.6,173" fill="none" stroke="#252320" stroke-width="3.2" stroke-linecap="butt" stroke-linejoin="round"/><path d="M866,172.4 L874.6,173" fill="none" stroke="#4d4b46" stroke-width="0.80" stroke-linecap="butt" stroke-linejoin="round" transform="translate(0,-0.58)"/><ellipse cx="864.8" cy="171.4" rx="2.3" ry="3.9" fill="#262421"/><path d="M806.6,172.6 Q807,169.4 809.6,169.3 L820.4,169.5 Q822,169.8 822,171.6 L821.6,179 L819.4,201.7 L816.6,203 L816,212 L812.8,212.6 L806.4,210 Q805.2,209.4 805.2,207 Z" fill="#1a48a2"/><path d="M806.6,172.6 Q807,169.4 809.6,169.3 L810.6,169.4 L808.6,211 L806.4,210 Q805.2,209.4 805.2,207 Z" fill="#3462b8"/><path d="M821.6,174 L831.6,175.2" fill="none" stroke="#252320" stroke-width="2.8" stroke-linecap="butt" stroke-linejoin="round"/><path d="M821.6,174 L831.6,175.2" fill="none" stroke="#4d4b46" stroke-width="0.70" stroke-linecap="butt" stroke-linejoin="round" transform="translate(0,-0.50)"/><path d="M835.4,114 L835.3,80 Q835.4,68.4 845.2,64.8 L876,53" fill="none" stroke="#9fa799" stroke-width="5.2" stroke-linecap="butt" stroke-linejoin="round"/><path d="M835.4,114 L835.3,80 Q835.4,68.4 845.2,64.8 L876,53" fill="none" stroke="#cdd4c8" stroke-width="3.85" stroke-linecap="butt" stroke-linejoin="round" transform="translate(-0.42,-0.42)"/><path d="M835.4,114 L835.3,80 Q835.4,68.4 845.2,64.8 L876,53" fill="none" stroke="#e3e9e0" stroke-width="1.66" stroke-linecap="butt" stroke-linejoin="round" transform="translate(-0.83,-0.83)"/><path d="M885.8,120.4 L885.7,88.4 Q885.8,78.4 894.8,76 L932.6,63.8" fill="none" stroke="#9fa799" stroke-width="5.4" stroke-linecap="butt" stroke-linejoin="round"/><path d="M885.8,120.4 L885.7,88.4 Q885.8,78.4 894.8,76 L932.6,63.8" fill="none" stroke="#cdd4c8" stroke-width="4.00" stroke-linecap="butt" stroke-linejoin="round" transform="translate(-0.43,-0.43)"/><path d="M885.8,120.4 L885.7,88.4 Q885.8,78.4 894.8,76 L932.6,63.8" fill="none" stroke="#e3e9e0" stroke-width="1.73" stroke-linecap="butt" stroke-linejoin="round" transform="translate(-0.86,-0.86)"/><polygon points="828.1,62.6 833.7,62.6 834.5,338 829.2,338" fill="url(#gvs)" /><polygon points="879.6,73.8 885.1,73.8 882.3,321 876.9,321" fill="url(#gvs)" /><rect x="828.2" y="335.6" width="7.8" height="5.6" rx="1" fill="#1f1e1c"/><rect x="875.4" y="319.6" width="7.8" height="5.2" rx="1" fill="#1f1e1c"/><path d="M877,53 L887.6,48.6" fill="none" stroke="#252320" stroke-width="5.4" stroke-linecap="round" stroke-linejoin="round"/><path d="M877,53 L887.6,48.6" fill="none" stroke="#4d4b46" stroke-width="1.35" stroke-linecap="round" stroke-linejoin="round" transform="translate(0,-0.97)"/><path d="M933,63.2 L940.4,61.4 L947.6,67.4" fill="none" stroke="#252320" stroke-width="5.4" stroke-linecap="round" stroke-linejoin="round"/><path d="M933,63.2 L940.4,61.4 L947.6,67.4" fill="none" stroke="#4d4b46" stroke-width="1.35" stroke-linecap="round" stroke-linejoin="round" transform="translate(0,-0.97)"/><rect x="825" y="88.4" width="12" height="4.6" rx="1.2" fill="#24221f"/><rect x="825" y="110.8" width="12" height="4.6" rx="1.2" fill="#24221f"/><rect x="877.4" y="95.4" width="10.8" height="4.4" rx="1.2" fill="#24221f"/><rect x="877.4" y="115.8" width="10.8" height="4.4" rx="1.2" fill="#24221f"/><circle cx="828" cy="83.6" r="1.9" fill="#22201e"/><circle cx="827.43" cy="83.03" r="0.57" fill="#55534e"/><circle cx="828" cy="121.4" r="1.9" fill="#22201e"/><circle cx="827.43" cy="120.83" r="0.57" fill="#55534e"/><circle cx="828.2" cy="157.6" r="1.9" fill="#22201e"/><circle cx="827.63" cy="157.03" r="0.57" fill="#55534e"/><circle cx="828.4" cy="192.4" r="1.9" fill="#22201e"/><circle cx="827.83" cy="191.83" r="0.57" fill="#55534e"/><circle cx="828.6" cy="226" r="1.9" fill="#22201e"/><circle cx="828.03" cy="225.43" r="0.57" fill="#55534e"/><circle cx="828.8" cy="259.4" r="1.9" fill="#22201e"/><circle cx="828.23" cy="258.83" r="0.57" fill="#55534e"/><circle cx="829" cy="290.6" r="1.9" fill="#22201e"/><circle cx="828.43" cy="290.03" r="0.57" fill="#55534e"/><circle cx="829.2" cy="324" r="1.9" fill="#22201e"/><circle cx="828.63" cy="323.43" r="0.57" fill="#55534e"/><circle cx="884.8" cy="91.2" r="1.4" fill="#22201e"/><circle cx="884.38" cy="90.78" r="0.42" fill="#55534e"/><circle cx="884.4" cy="125.4" r="1.4" fill="#22201e"/><circle cx="883.98" cy="124.98" r="0.42" fill="#55534e"/><circle cx="884" cy="157.6" r="1.4" fill="#22201e"/><circle cx="883.58" cy="157.18" r="0.42" fill="#55534e"/><circle cx="883.4" cy="189.4" r="1.4" fill="#22201e"/><circle cx="882.98" cy="188.98" r="0.42" fill="#55534e"/><circle cx="883" cy="220.2" r="1.4" fill="#22201e"/><circle cx="882.58" cy="219.78" r="0.42" fill="#55534e"/><circle cx="882.6" cy="251" r="1.4" fill="#22201e"/><circle cx="882.18" cy="250.58" r="0.42" fill="#55534e"/><circle cx="882.2" cy="280.2" r="1.4" fill="#22201e"/><circle cx="881.78" cy="279.78" r="0.42" fill="#55534e"/><circle cx="881.8" cy="308.8" r="1.4" fill="#22201e"/><circle cx="881.38" cy="308.38" r="0.42" fill="#55534e"/><circle cx="832" cy="71" r="1.9" fill="#22201e"/><circle cx="831.43" cy="70.43" r="0.57" fill="#55534e"/><circle cx="882.6" cy="79.8" r="1.9" fill="#22201e"/><circle cx="882.03" cy="79.23" r="0.57" fill="#55534e"/><circle cx="833.4" cy="308" r="1.9" fill="#22201e"/><circle cx="832.83" cy="307.43" r="0.57" fill="#55534e"/><circle cx="880" cy="295.2" r="1.9" fill="#22201e"/><circle cx="879.43" cy="294.63" r="0.57" fill="#55534e"/><circle cx="843" cy="61.4" r="1.6" fill="#22201e"/><circle cx="842.52" cy="60.92" r="0.48" fill="#55534e"/><circle cx="876" cy="57.6" r="1.6" fill="#22201e"/><circle cx="875.52" cy="57.12" r="0.48" fill="#55534e"/><circle cx="895.4" cy="78.6" r="1.6" fill="#22201e"/><circle cx="894.92" cy="78.12" r="0.48" fill="#55534e"/><circle cx="931.6" cy="67.2" r="1.6" fill="#22201e"/><circle cx="931.12" cy="66.72" r="0.48" fill="#55534e"/><circle cx="877.6" cy="49" r="1.6" fill="#22201e"/><circle cx="877.12" cy="48.52" r="0.48" fill="#55534e"/><circle cx="926" cy="57" r="1.6" fill="#22201e"/><circle cx="925.52" cy="56.52" r="0.48" fill="#55534e"/><path d="M817.6,150 L815.2,210 Q815,217.6 822,217.6" fill="none" stroke="#9fa799" stroke-width="3.3" stroke-linecap="butt" stroke-linejoin="round"/><path d="M817.6,150 L815.2,210 Q815,217.6 822,217.6" fill="none" stroke="#cdd4c8" stroke-width="2.44" stroke-linecap="butt" stroke-linejoin="round" transform="translate(-0.26,-0.26)"/><path d="M817.6,150 L815.2,210 Q815,217.6 822,217.6" fill="none" stroke="#e3e9e0" stroke-width="1.06" stroke-linecap="butt" stroke-linejoin="round" transform="translate(-0.53,-0.53)"/><path d="M818.5,139.6 L817.7,153.6" fill="none" stroke="#252320" stroke-width="4" stroke-linecap="butt" stroke-linejoin="round"/><path d="M818.5,139.6 L817.7,153.6" fill="none" stroke="#4d4b46" stroke-width="1.00" stroke-linecap="butt" stroke-linejoin="round" transform="translate(0,-0.72)"/><path d="M809.4,157 L815.6,159.6" fill="none" stroke="#252320" stroke-width="4.2" stroke-linecap="round" stroke-linejoin="round"/><path d="M809.4,157 L815.6,159.6" fill="none" stroke="#4d4b46" stroke-width="1.05" stroke-linecap="round" stroke-linejoin="round" transform="translate(0,-0.76)"/><path d="M886.5,142.6 L884.7,155.6" fill="none" stroke="#252320" stroke-width="3.6" stroke-linecap="butt" stroke-linejoin="round"/><path d="M886.5,142.6 L884.7,155.6" fill="none" stroke="#4d4b46" stroke-width="0.90" stroke-linecap="butt" stroke-linejoin="round" transform="translate(0,-0.65)"/><path d="M821,217.6 L888.2,211" fill="none" stroke="#9fa799" stroke-width="3.6" stroke-linecap="butt" stroke-linejoin="round"/><path d="M821,217.6 L888.2,211" fill="none" stroke="#cdd4c8" stroke-width="2.66" stroke-linecap="butt" stroke-linejoin="round" transform="translate(-0.29,-0.29)"/><path d="M821,217.6 L888.2,211" fill="none" stroke="#e3e9e0" stroke-width="1.15" stroke-linecap="butt" stroke-linejoin="round" transform="translate(-0.58,-0.58)"/><path d="M834,213.4 L878,209.4" fill="none" stroke="#9fa799" stroke-width="2.4" stroke-linecap="butt" stroke-linejoin="round"/><path d="M834,213.4 L878,209.4" fill="none" stroke="#cdd4c8" stroke-width="1.78" stroke-linecap="butt" stroke-linejoin="round" transform="translate(-0.19,-0.19)"/><rect x="826.4" y="219.4" width="8.8" height="5.4" rx="1" fill="#24221f"/><rect x="827.8" y="208.6" width="6.8" height="2.4" fill="#24221f"/><rect x="877.2" y="212.8" width="7" height="5.2" rx="1" fill="#24221f"/></g>
<g id="borders"><rect x="19" y="15" width="987" height="657" rx="9.5" ry="9.5" fill="none" stroke="#1212f2" stroke-width="2.1"/><rect x="42.8" y="32.8" width="285.8" height="78.5" rx="12" ry="12" fill="none" stroke="#1212f2" stroke-width="1.6"/><rect x="42.8" y="125" width="285.8" height="78" rx="12" ry="12" fill="none" stroke="#1212f2" stroke-width="1.6"/><rect x="42.8" y="217.8" width="285.8" height="85.59999999999997" rx="12" ry="12" fill="none" stroke="#1212f2" stroke-width="1.6"/><rect x="42.8" y="317.8" width="285.8" height="75.0" rx="12" ry="12" fill="none" stroke="#1212f2" stroke-width="1.6"/><rect x="42.8" y="407.6" width="285.8" height="103.5" rx="12" ry="12" fill="none" stroke="#1212f2" stroke-width="1.6"/><rect x="42.8" y="527.7" width="285.8" height="126.5" rx="12" ry="12" fill="none" stroke="#1212f2" stroke-width="1.6"/><rect x="755.2" y="29" width="229.79999999999995" height="405" rx="11" ry="11" fill="none" stroke="#1212f2" stroke-width="1.6"/><rect x="688.2" y="449.8" width="296.79999999999995" height="206.2" rx="9.5" ry="9.5" fill="none" stroke="#1212f2" stroke-width="1.6"/></g>
</svg>
<div class="t" style="left:197.3px;top:36.9px;transform:scaleX(1.0012)">Эргономичная</div>
<div class="t" style="left:206.0px;top:60.0px;transform:scaleX(1.0359)">форма ручек</div>
<div class="t" style="left:178.6px;top:83.5px;transform:scaleX(0.9769)">удобна при захвате</div>
<div class="t" style="left:140.7px;top:129.2px;transform:scaleX(0.9783)">Пластмассовое кольцо</div>
<div class="t" style="left:164.2px;top:152.7px;transform:scaleX(1.0050)">закрывает стык</div>
<div class="t" style="left:139.8px;top:176.1px;transform:scaleX(0.9733)">верхней и нижней стоек</div>
<div class="t" style="left:114.6px;top:254.3px;transform:scaleX(0.9914)">Перекладины с ПВХ</div>
<div class="t" style="left:72.7px;top:277.7px;transform:scaleX(0.9787)">покрытием против скольжения</div>
<div class="t" style="left:163.2px;top:321.2px;transform:scaleX(1.0216)">Травмобезопасные,</div>
<div class="t" style="left:194.8px;top:344.9px;transform:scaleX(0.9642)">эстетичные</div>
<div class="t" style="left:176.4px;top:367.8px;transform:scaleX(0.9830)">заглушки болтов</div>
<div class="t" style="left:60.9px;top:480.4px;transform:scaleX(0.9759)">Удобные, широкие  подлокотники</div>
<div class="t" style="left:172.0px;top:544.8px;transform:scaleX(1.0013)">При выполнении</div>
<div class="t" style="left:189.6px;top:568.5px;transform:scaleX(0.9686)">упражнений</div>
<div class="t" style="left:174.6px;top:591.7px;transform:scaleX(0.9705)">навесная спинка</div>
<div class="t" style="left:162.3px;top:615.1px;transform:scaleX(0.9495)">может быть снята</div>
<div class="t" style="left:782.5px;top:353.9px;transform:scaleX(0.9875)">Откидная конструкция</div>
<div class="t" style="left:807.2px;top:377.5px;transform:scaleX(0.9674)">брусьев экономит</div>
<div class="t" style="left:780.2px;top:401.0px;transform:scaleX(0.9627)">пространство в комнате</div>
<div class="t b" style="left:725.4px;top:474.9px;transform:scaleX(0.9998)">Регулируемый</div>
<div class="t b" style="left:759.6px;top:506.4px;transform:scaleX(1.0507)">турник</div>
<div class="t b" style="left:711.0px;top:539.2px;transform:scaleX(0.9554)">устанавливается</div>
<div class="t b" style="left:751.7px;top:572.5px;transform:scaleX(0.9814)">на любом</div>
<div class="t b" style="left:763.5px;top:602.2px;transform:scaleX(0.9736)">уровне</div>
</body></html>
